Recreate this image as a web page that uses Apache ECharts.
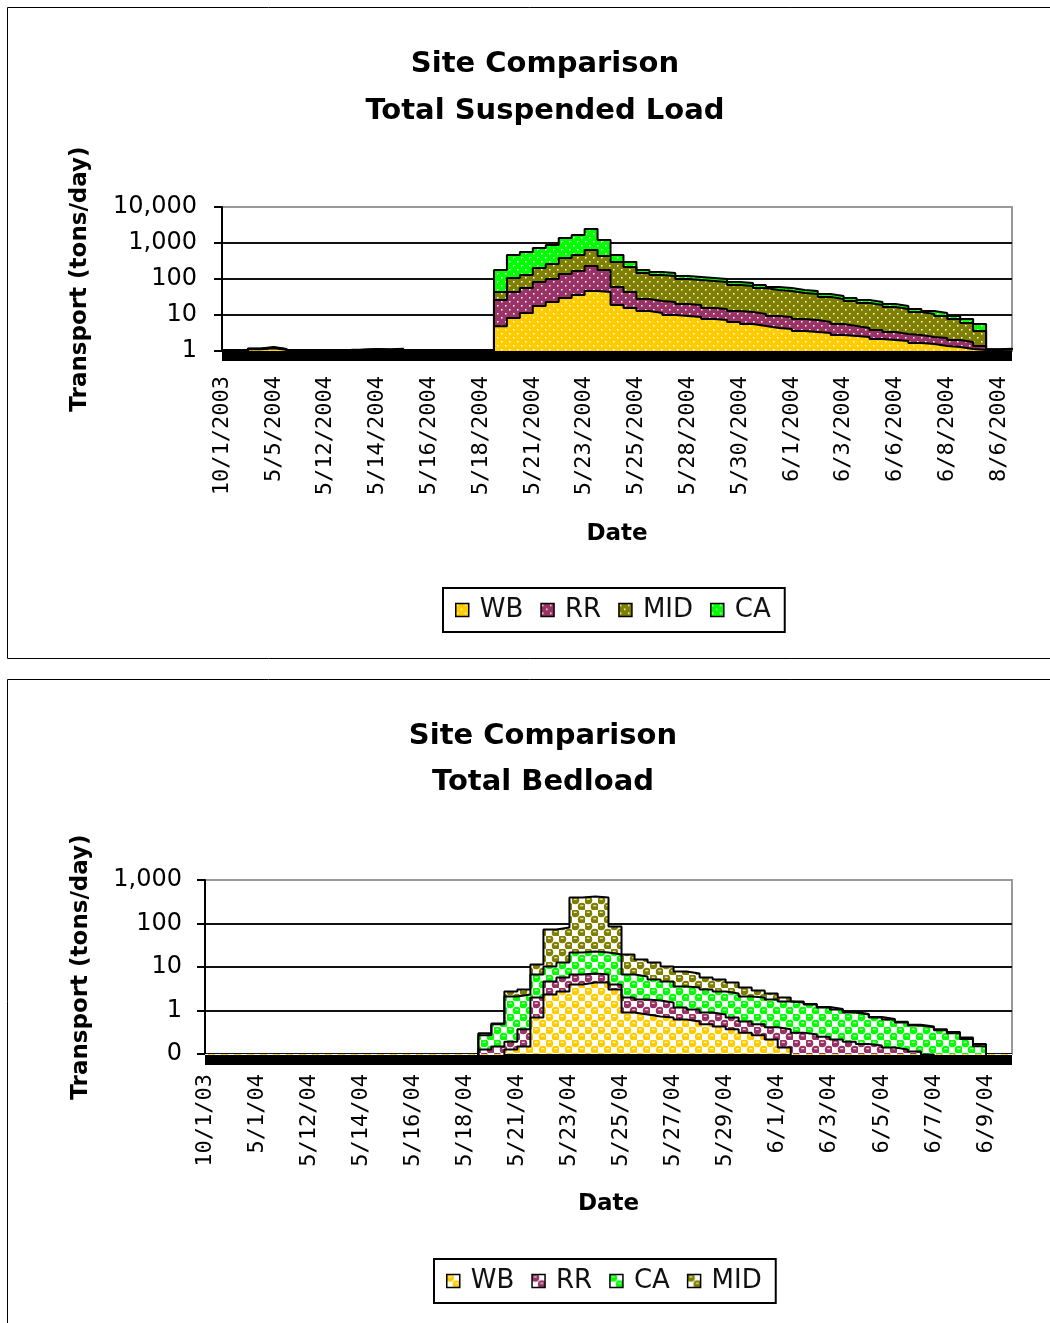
<!DOCTYPE html>
<html><head><meta charset="utf-8">
<script src="https://cdn.jsdelivr.net/npm/echarts@6/dist/echarts.min.js"></script>
<style>html,body{margin:0;padding:0;background:#fff}#c{width:1050px;height:1323px}</style>
</head><body><div id="c"></div>
<script>
// ---------- Chart 1: Total Suspended Load (tons/day) ----------
const SUS_LABELS = ['10/1/2003','5/5/2004','5/12/2004','5/14/2004','5/16/2004','5/18/2004','5/21/2004','5/23/2004','5/25/2004','5/28/2004','5/30/2004','6/1/2004','6/3/2004','6/6/2004','6/8/2004','8/6/2004'];
const SUS_WB = [
0.25,0.25,1.12,1.2,1.08,0.25,0.25,0.25,0.25,0.25,
1.04,1.06,1.04,1.07,0.25,0.25,0.25,0.25,0.25,0.25,
0.25,4.9,8.3,11.4,17.8,23,29.7,35.9,46.4,43.6,
19,15.6,12.9,11.4,10,9.4,8.8,7.7,7.3,6.4,
5.6,4.95,4.36,4.08,3.59,3.37,3.16,2.78,2.61,2.45,
2.15,2.02,1.9,1.67,1.56,1.38,1.29,1.14,1.07,1.06,
1.1,1.16];
const SUS_RR = [
0.25,0.25,0.02,0.03,0.02,0.25,0.25,0.25,0.25,0.25,
0.02,0.02,0.02,0.02,0.25,0.25,0.25,0.25,0.25,0.25,
0.25,21.2,35.3,44.8,64.7,77,108,131,184,134,
40.9,28,14.9,13.1,13,10.8,10.2,7.9,7.4,6.5,
6.5,5.75,5.02,4.72,4.15,3.89,3.23,2.84,2.34,1.91,
1.68,1.35,1.07,1.11,0.89,0.92,0.73,0.64,0.31,0.02,
0.02,0.02];
const SUS_MID = [
0.25,0.25,0.02,0.03,0.02,0.25,0.25,0.25,0.25,0.25,
0.02,0.02,0.02,0.02,0.25,0.25,0.25,0.25,0.25,0.25,
0.25,17.5,63,73,120,161,245,297,409,258,
237,171,119,104.5,98,79.8,74.8,72.4,67.8,55.2,
51.8,45.5,40.1,37.6,33.1,31,25.2,22.2,19.5,17.1,
15.2,13.3,11.7,9.3,8.25,7.08,5.72,4.22,2.21,0.02,
0.02,0.02];
const SUS_CA = [
0.25,0.25,0.02,0.03,0.02,0.25,0.25,0.25,0.25,0.25,
0.02,0.03,0.04,0.04,0.25,0.25,0.25,0.25,0.25,0.25,
0.25,134,357,433,524,619,994,1204,1808,776,
167,82,31,27,26,21,20,19,17.5,14.4,
13.5,11.9,10.4,9.8,8.7,8.1,6.7,5.9,5.2,4.6,
4,3.5,3.1,2.6,2.2,2.0,1.64,1.74,2.03,0.02,
0.02,0.02];

// ---------- Chart 2: Total Bedload (tons/day) ----------
const BED_LABELS = ['10/1/03','5/1/04','5/12/04','5/14/04','5/16/04','5/18/04','5/21/04','5/23/04','5/25/04','5/27/04','5/29/04','6/1/04','6/3/04','6/5/04','6/7/04','6/9/04'];
const BED_WB = [
0.02,0.02,0.02,0.02,0.02,0.02,0.02,0.02,0.02,0.02,
0.02,0.02,0.02,0.02,0.02,0.02,0.02,0.02,0.02,0.02,
0.02,0.03,0.05,0.127,0.149,0.69,2.33,2.73,3.96,4.40,
4.40,3.04,0.90,0.81,0.73,0.69,0.62,0.56,0.48,0.43,
0.37,0.31,0.27,0.215,0.141,0.03,0.02,0.02,0.02,0.02,
0.02,0.02,0.02,0.02,0.02,0.02,0.02,0.02,0.02,0.02,
0.02,0.02,0.02];
const BED_RR = [
0.02,0.02,0.02,0.02,0.02,0.02,0.02,0.02,0.02,0.02,
0.02,0.02,0.02,0.02,0.02,0.02,0.02,0.02,0.02,0.02,
0.02,0.097,0.099,0.063,0.221,1.30,2.31,3.01,2.76,2.69,
2.32,0.92,1.09,0.98,0.97,0.84,0.55,0.49,0.42,0.38,
0.32,0.25,0.21,0.195,0.229,0.28,0.26,0.23,0.195,0.17,
0.15,0.137,0.121,0.107,0.094,0.077,0.05,0.04,0.04,0.03,
0.03,0.02,0.02];
const BED_CA = [
0.02,0.02,0.02,0.02,0.02,0.02,0.02,0.02,0.02,0.02,
0.02,0.02,0.02,0.02,0.02,0.02,0.02,0.02,0.02,0.02,
0.02,0.143,0.331,1.91,1.96,4.73,5.66,6.96,14.8,15.6,
14.8,15.4,4.73,4.26,3.46,3.11,2.39,2.33,2.14,1.92,
1.77,1.54,1.51,1.38,1.24,1.22,1.09,0.92,0.835,0.71,
0.64,0.533,0.479,0.403,0.336,0.313,0.28,0.24,0.16,0.1,
0.02,0.02,0.02];
const BED_MID = [
0.02,0.02,0.02,0.02,0.02,0.02,0.02,0.02,0.02,0.02,
0.02,0.02,0.02,0.02,0.02,0.02,0.02,0.02,0.02,0.02,
0.02,0.03,0.02,0.63,0.71,4.68,62.5,68.2,374,395,
374,65.9,12.7,8.85,7.54,5.66,4.32,3.71,2.70,2.43,
1.94,1.28,0.89,0.67,0.38,0.08,0.04,0.03,0.03,0.02,
0.02,0.02,0.02,0.02,0.02,0.02,0.02,0.02,0.02,0.02,
0.02,0.02,0.02];

const PER_LABEL = 4;
const COLORS = {WB:'#FFCC00', RR:'#993366', MID:'#808000', CA:'#00FF00'};

function addArr(a, b){ return a.map((v,i)=>v + b[i]); }
function cats(n){ const r=[]; for(let i=0;i<n;i++) r.push(String(i)); return r; }

function dotPattern(color){
  const c=document.createElement('canvas'); c.width=8; c.height=8;
  const g=c.getContext('2d'); g.fillStyle=color; g.fillRect(0,0,8,8);
  g.fillStyle='#fff'; g.fillRect(1,1,1.5,1.5); g.fillRect(5,5,1.5,1.5);
  return {image:c, repeat:'repeat'};
}
function ballPattern(color){
  const c=document.createElement('canvas'); c.width=13; c.height=13;
  const g=c.getContext('2d'); g.fillStyle='#fff'; g.fillRect(0,0,13,13);
  g.fillStyle=color;
  [[3.25,3.25],[9.75,9.75]].forEach(p=>{g.beginPath(); g.arc(p[0],p[1],4,0,Math.PI*2); g.fill();});
  g.fillStyle='#fff';
  [[3.25,3.25],[9.75,9.75]].forEach(p=>{g.fillRect(p[0]-1.5,p[1]-1.5,3,1);});
  return {image:c, repeat:'repeat'};
}

// cumulative stacks
const susW = SUS_WB, susR = addArr(susW, SUS_RR), susM = addArr(susR, SUS_MID), susC = addArr(susM, SUS_CA);
const bedW = BED_WB, bedR = addArr(bedW, BED_RR), bedC = addArr(bedR, BED_CA), bedM = addArr(bedC, BED_MID);

const pS = {WB:dotPattern(COLORS.WB), RR:dotPattern(COLORS.RR), MID:dotPattern(COLORS.MID), CA:dotPattern(COLORS.CA)};
const pB = {WB:ballPattern(COLORS.WB), RR:ballPattern(COLORS.RR), MID:ballPattern(COLORS.MID), CA:ballPattern(COLORS.CA)};

function areaSeries(name, data, pat, idx){
  return {type:'line', name, xAxisIndex:idx, yAxisIndex:idx, data, step:'end', symbol:'none',
    silent:true, clip:true,
    lineStyle:{color:'#000', width:2},
    itemStyle:{color:pat},
    areaStyle:{color:pat, opacity:1, origin:'start'}};
}

const FONT = 'DejaVu Sans';
const logFmt = v => Math.round(v).toLocaleString('en-US');

function xAxisDef(idx, labels, n, offset, width, margin, nameGap){
  return {type:'category', gridIndex:idx, data:cats(n), boundaryGap:false, offset,
    axisLine:{show:true, onZero:false, lineStyle:{color:'#000', width, cap:'butt'}},
    axisTick:{show:false},
    axisLabel:{interval:PER_LABEL-1, rotate:90, margin, fontFamily:'DejaVu Sans Mono', fontSize:22, color:'#000',
      formatter:(v,i)=> (i % PER_LABEL === 0 ? (labels[i/PER_LABEL] || '') : '')},
    name:'Date', nameLocation:'middle', nameGap,
    nameTextStyle:{fontFamily:FONT, fontWeight:'bold', fontSize:23, color:'#000'}};
}
function yAxisDef(idx, min, max, margin, nameGap){
  return {type:'log', logBase:10, gridIndex:idx, min, max,
    axisLine:{show:true, lineStyle:{color:'#000', width:2}},
    axisTick:{show:true, length:8, lineStyle:{color:'#000', width:2}},
    axisLabel:{margin, fontFamily:FONT, fontSize:24, color:'#000', formatter:logFmt},
    splitLine:{show:true, showMaxLine:false, lineStyle:{color:'#111', width:2}},
    name:'Transport (tons/day)', nameLocation:'middle', nameRotate:90, nameGap,
    nameTextStyle:{fontFamily:FONT, fontWeight:'bold', fontSize:23, color:'#000'}};
}
function legendDef(left, top, order, pats){
  return {show:true, left, top, orient:'horizontal', icon:'rect', selectedMode:false,
    itemWidth:13, itemHeight:13, itemGap:17,
    borderColor:'#000', borderWidth:2, padding:[9,14,9,12],
    textStyle:{fontFamily:FONT, fontSize:26, color:'#111', padding:[0,0,0,6]},
    data: order.map(n=>({name:n, itemStyle:{color:pats[n], borderColor:'#000', borderWidth:1.5}}))};
}

const chart = echarts.init(document.getElementById('c'), null, {renderer:'canvas'});
chart.setOption({
  animation:false,
  backgroundColor:'#fff',
  graphic:[
    {type:'rect', shape:{x:7.5,y:7.5,width:1100,height:651}, style:{fill:'none', stroke:'#000', lineWidth:1}},
    {type:'rect', shape:{x:7.5,y:679.5,width:1100,height:700}, style:{fill:'none', stroke:'#000', lineWidth:1}},
    {type:'text', x:545, y:64, style:{text:'Site Comparison', align:'center', verticalAlign:'middle', font:'bold 29px "DejaVu Sans"', fill:'#000'}},
    {type:'text', x:545, y:111, style:{text:'Total Suspended Load', align:'center', verticalAlign:'middle', font:'bold 29px "DejaVu Sans"', fill:'#000'}},
    {type:'text', x:543, y:736, style:{text:'Site Comparison', align:'center', verticalAlign:'middle', font:'bold 29px "DejaVu Sans"', fill:'#000'}},
    {type:'text', x:543, y:782, style:{text:'Total Bedload', align:'center', verticalAlign:'middle', font:'bold 29px "DejaVu Sans"', fill:'#000'}}
  ],
  grid:[
    {left:222, right:38, top:207, height:144, show:true, backgroundColor:'#fff', borderColor:'#999', borderWidth:2},
    {left:205, right:38, top:880, height:174, show:true, backgroundColor:'#fff', borderColor:'#999', borderWidth:2}
  ],
  xAxis:[
    xAxisDef(0, SUS_LABELS, SUS_WB.length, 4, 12, 21, 168),
    xAxisDef(1, BED_LABELS, BED_WB.length, 5, 11, 15, 134)
  ],
  yAxis:[
    yAxisDef(0, 1, 10000, 25, 130),
    yAxisDef(1, 0.1, 1000, 23, 112)
  ],
  legend:[
    legendDef(443, 588, ['WB','RR','MID','CA'], pS),
    legendDef(434, 1259, ['WB','RR','CA','MID'], pB)
  ],
  series:[
    areaSeries('CA', susC, pS.CA, 0),
    areaSeries('MID', susM, pS.MID, 0),
    areaSeries('RR', susR, pS.RR, 0),
    areaSeries('WB', susW, pS.WB, 0),
    areaSeries('MID', bedM, pB.MID, 1),
    areaSeries('CA', bedC, pB.CA, 1),
    areaSeries('RR', bedR, pB.RR, 1),
    areaSeries('WB', bedW, pB.WB, 1)
  ]
});
</script></body></html>
